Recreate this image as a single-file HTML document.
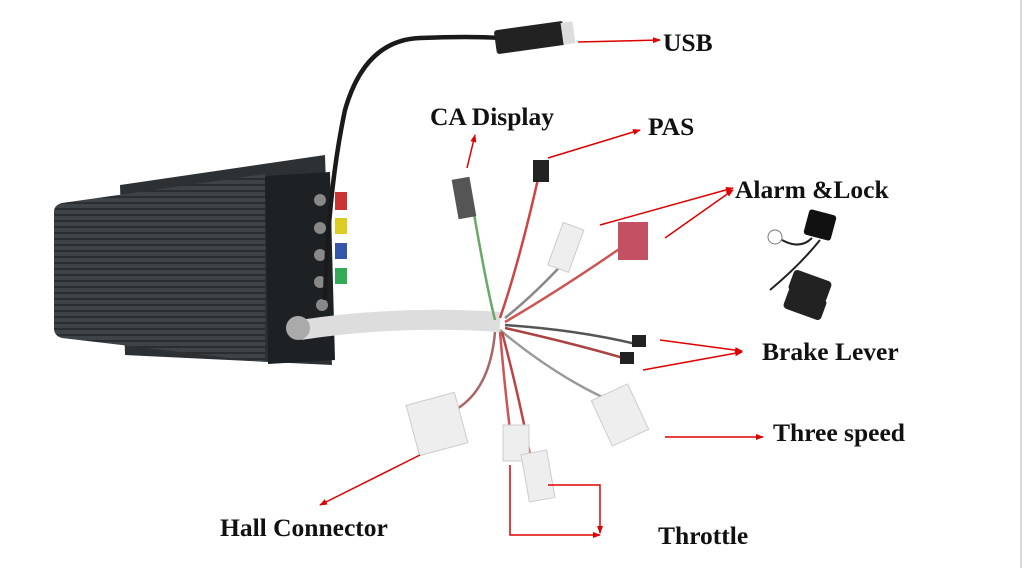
<!DOCTYPE html>
<html><head><style>
html,body{margin:0;padding:0;background:#fff;}
svg{display:block}
text{font-family:"Liberation Serif",serif;font-weight:bold;font-size:25.5px;fill:#111}
</style></head><body>
<svg width="1024" height="568" viewBox="0 0 1024 568" xmlns="http://www.w3.org/2000/svg">
<defs>
<marker id="a" markerWidth="8" markerHeight="8" refX="7" refY="4" orient="auto" markerUnits="userSpaceOnUse"><path d="M0,1 L8,4 L0,7 z" fill="#d00"/></marker>
<pattern id="fins" width="6" height="6" patternUnits="userSpaceOnUse"><rect width="6" height="6" fill="#3e4347"/><rect y="4" width="6" height="2" fill="#2a2e31"/></pattern>
</defs>
<line x1="1021" y1="0" x2="1021" y2="568" stroke="#ccc" stroke-width="1.5"/>
<polygon points="120,185 325,155 332,365 125,355" fill="#2d3134"/>
<path d="M62,203 L265,174 L265,362 L62,338 Q54,336 54,328 L54,212 Q54,205 62,203 z" fill="url(#fins)"/>
<path d="M265,176 L330,172 L335,360 L268,364 z" fill="#1e2123"/>
<g fill="#888"><circle cx="320" cy="200" r="6"/><circle cx="320" cy="228" r="6"/><circle cx="320" cy="255" r="6"/><circle cx="320" cy="282" r="6"/><circle cx="322" cy="305" r="6"/></g>
<rect x="335" y="192" width="12" height="18" fill="#c33"/><rect x="335" y="218" width="12" height="16" fill="#dc2"/><rect x="335" y="243" width="12" height="16" fill="#35a"/><rect x="335" y="268" width="12" height="16" fill="#3a5"/>
<path d="M325,300 Q328,190 345,110 Q365,40 420,38 Q470,36 500,38" stroke="#1a1a1a" stroke-width="4.5" fill="none"/>
<rect x="495" y="25" width="70" height="24" rx="3" fill="#222" transform="rotate(-8 534 37)"/>
<rect x="562" y="22" width="12" height="22" fill="#ddd" transform="rotate(-8 568 33)"/>
<path d="M300,330 Q400,315 500,322" stroke="#ddd" stroke-width="20" fill="none"/>
<circle cx="298" cy="328" r="12" fill="#aaa"/>
<g stroke-width="2.5" fill="none">
<path d="M495,320 Q485,280 470,190" stroke="#6a6"/>
<path d="M500,318 Q520,260 540,170" stroke="#c44"/>
<path d="M505,318 Q540,290 575,250" stroke="#888"/>
<path d="M505,322 Q560,290 625,245" stroke="#c55"/>
<path d="M505,325 Q580,330 640,345" stroke="#555"/>
<path d="M505,328 Q580,345 630,360" stroke="#a44"/>
<path d="M500,330 Q560,380 620,405" stroke="#999"/>
<path d="M495,332 Q490,390 455,410" stroke="#a66"/>
<path d="M500,332 Q505,390 510,430" stroke="#c55"/>
<path d="M502,332 Q520,400 530,455" stroke="#b44"/>
</g>
<rect x="455" y="178" width="18" height="40" fill="#555" transform="rotate(-10 464 198)"/>
<rect x="533" y="160" width="16" height="22" fill="#222"/>
<rect x="555" y="225" width="22" height="45" fill="#eee" stroke="#ccc" transform="rotate(20 566 247)"/>
<rect x="618" y="222" width="30" height="38" fill="#c35063"/>
<rect x="632" y="335" width="14" height="12" fill="#222"/><rect x="620" y="352" width="14" height="12" fill="#222"/>
<rect x="600" y="390" width="40" height="50" fill="#eee" stroke="#ccc" transform="rotate(-25 620 415)"/>
<rect x="412" y="398" width="50" height="52" fill="#eee" stroke="#ccc" transform="rotate(-15 437 424)"/>
<rect x="503" y="425" width="26" height="36" fill="#eee" stroke="#ccc"/>
<rect x="525" y="452" width="26" height="48" fill="#eee" stroke="#ccc" transform="rotate(-10 538 476)"/>
<rect x="806" y="212" width="28" height="26" rx="3" fill="#111" transform="rotate(15 820 225)"/>
<circle cx="775" cy="237" r="7" stroke="#777" stroke-width="1" fill="none"/>
<path d="M782,240 Q800,250 812,238 M820,240 Q800,265 770,290" stroke="#222" stroke-width="2" fill="none"/>
<rect x="790" y="275" width="40" height="22" rx="4" fill="#222" transform="rotate(20 810 286)"/>
<rect x="785" y="293" width="40" height="22" rx="4" fill="#222" transform="rotate(20 805 304)"/>
<g stroke="#d00" stroke-width="1.5" fill="none" marker-end="url(#a)">
<line x1="578" y1="42" x2="660" y2="40"/>
<line x1="467" y1="168" x2="475" y2="135"/>
<line x1="548" y1="158" x2="640" y2="130"/>
<line x1="600" y1="225" x2="733" y2="188"/>
<line x1="665" y1="238" x2="733" y2="190"/>
<line x1="660" y1="340" x2="742" y2="351"/>
<line x1="643" y1="370" x2="742" y2="352"/>
<line x1="665" y1="437" x2="763" y2="437"/>
<line x1="420" y1="455" x2="320" y2="505"/>
<path d="M510,465 L510,535 L600,535"/>
<path d="M548,485 L600,485 L600,533"/>
</g>
<text x="663" y="51">USB</text>
<text x="430" y="125">CA Display</text>
<text x="648" y="135">PAS</text>
<text x="735" y="198">Alarm &amp;Lock</text>
<text x="762" y="360">Brake Lever</text>
<text x="773" y="441">Three speed</text>
<text x="220" y="536">Hall Connector</text>
<text x="658" y="544">Throttle</text>
</svg>
</body></html>
